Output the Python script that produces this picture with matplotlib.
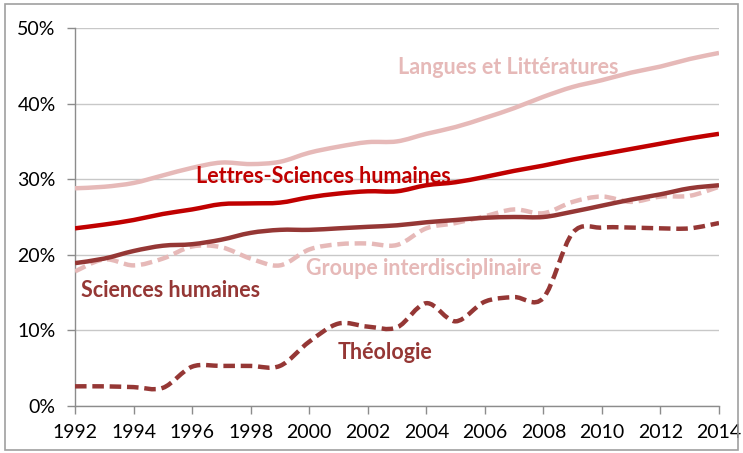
import matplotlib
matplotlib.use('Agg')
import matplotlib.pyplot as plt
from matplotlib.path import Path
from matplotlib.patches import PathPatch
from matplotlib.ticker import FuncFormatter
import numpy as np

# data (share in %)
years = list(range(1992, 2015))
langues = [28.8, 29.0, 29.5, 30.5, 31.5, 32.2, 32.0, 32.3, 33.5, 34.3, 34.9, 35.0,
           36.0, 36.9, 38.1, 39.4, 40.9, 42.2, 43.1, 44.1, 44.9, 45.9, 46.7]
lettres_sh = [23.5, 24.0, 24.6, 25.4, 26.0, 26.7, 26.8, 26.9, 27.6, 28.1, 28.4, 28.4,
              29.2, 29.6, 30.3, 31.1, 31.8, 32.6, 33.3, 34.0, 34.7, 35.4, 36.0]
sciences_h = [18.9, 19.5, 20.5, 21.2, 21.4, 22.0, 22.9, 23.3, 23.3, 23.5, 23.7, 23.9,
              24.3, 24.6, 24.9, 25.0, 25.0, 25.7, 26.5, 27.3, 28.0, 28.8, 29.2]
groupe = [17.8, 19.4, 18.6, 19.5, 21.1, 21.0, 19.5, 18.6, 20.7, 21.4, 21.5, 21.3,
          23.5, 24.2, 25.1, 26.0, 25.5, 27.0, 27.7, 27.0, 27.7, 27.8, 29.0]
theologie = [2.6, 2.6, 2.5, 2.4, 5.2, 5.3, 5.3, 5.3, 8.5, 10.9, 10.5, 10.4,
             13.6, 11.2, 13.8, 14.4, 14.3, 22.9, 23.6, 23.6, 23.5, 23.5, 24.2]

PINK = '#E6B9B8'
RED = '#C00000'
DARK = '#953735'


def smooth_path(x, y):
    '''Bezier path through the points, like an Excel smoothed line'''
    p = np.column_stack([x, y])
    n = len(p)
    verts = [p[0]]
    codes = [Path.MOVETO]
    for i in range(n - 1):
        p0 = p[i - 1] if i > 0 else p[i]
        p3 = p[i + 2] if i + 2 < n else p[i + 1]
        c1 = p[i] + (p[i + 1] - p0) / 6.0
        c2 = p[i + 1] - (p3 - p[i]) / 6.0
        verts += [c1, c2, p[i + 1]]
        codes += [Path.CURVE4] * 3
    return Path(verts, codes)


fig = plt.figure(figsize=(7.43, 4.53), dpi=100)
ax = fig.add_axes([75 / 743, 1 - 406 / 453, (719 - 75) / 743, (406 - 28) / 453])

# grey frame round the whole chart
fig.patches.append(plt.Rectangle((5 / 743, 3 / 453), 733 / 743, 446 / 453,
                                 transform=fig.transFigure, fill=False,
                                 edgecolor='#A0A0A0', linewidth=1.2))

series = [
    (langues, PINK, '-'),
    (lettres_sh, RED, '-'),
    (groupe, PINK, (0, (2.6, 1.3))),
    (sciences_h, DARK, '-'),
    (theologie, DARK, (0, (2.6, 1.3))),
]
for vals, col, ls in series:
    patch = PathPatch(smooth_path(years, [v / 100 for v in vals]), fill=False,
                      edgecolor=col, linewidth=3.2, linestyle=ls, capstyle='butt',
                      joinstyle='round', zorder=3)
    ax.add_patch(patch)

ax.set_xlim(1992, 2014)
ax.set_ylim(0, 0.5)
ax.set_xticks(range(1992, 2015, 2))
ax.set_yticks(np.arange(0, 0.51, 0.1))
ax.yaxis.set_major_formatter(FuncFormatter(lambda v, pos: '%d%%' % round(v * 100)))

ax.grid(axis='y', color='#C8C8C8', linewidth=1)
ax.set_axisbelow(True)
for s in ['top', 'right']:
    ax.spines[s].set_visible(False)
for s in ['left', 'bottom']:
    ax.spines[s].set_color('#8C8C8C')
    ax.spines[s].set_linewidth(1)
ax.tick_params(direction='out', length=6, width=1, color='#8C8C8C', labelsize=14)
ax.tick_params(axis='x', pad=7)
ax.tick_params(axis='y', pad=8)
for lab in ax.get_xticklabels() + ax.get_yticklabels():
    lab.set_fontfamily('Lato')

# series labels
lab_kw = dict(fontsize=15.5, fontweight='bold', family='Lato', va='center', ha='center')
ax.text(2006.8, 0.448, 'Langues et Littératures', color=PINK, **lab_kw)
ax.text(2000.5, 0.304, 'Lettres-Sciences humaines', color=RED, **lab_kw)
ax.text(1995.25, 0.153, 'Sciences humaines', color=DARK, **lab_kw)
ax.text(2003.9, 0.182, 'Groupe interdisciplinaire', color=PINK, **lab_kw)
ax.text(2002.6, 0.071, 'Théologie', color=DARK, **lab_kw)

fig.savefig('out.png', dpi=100)
